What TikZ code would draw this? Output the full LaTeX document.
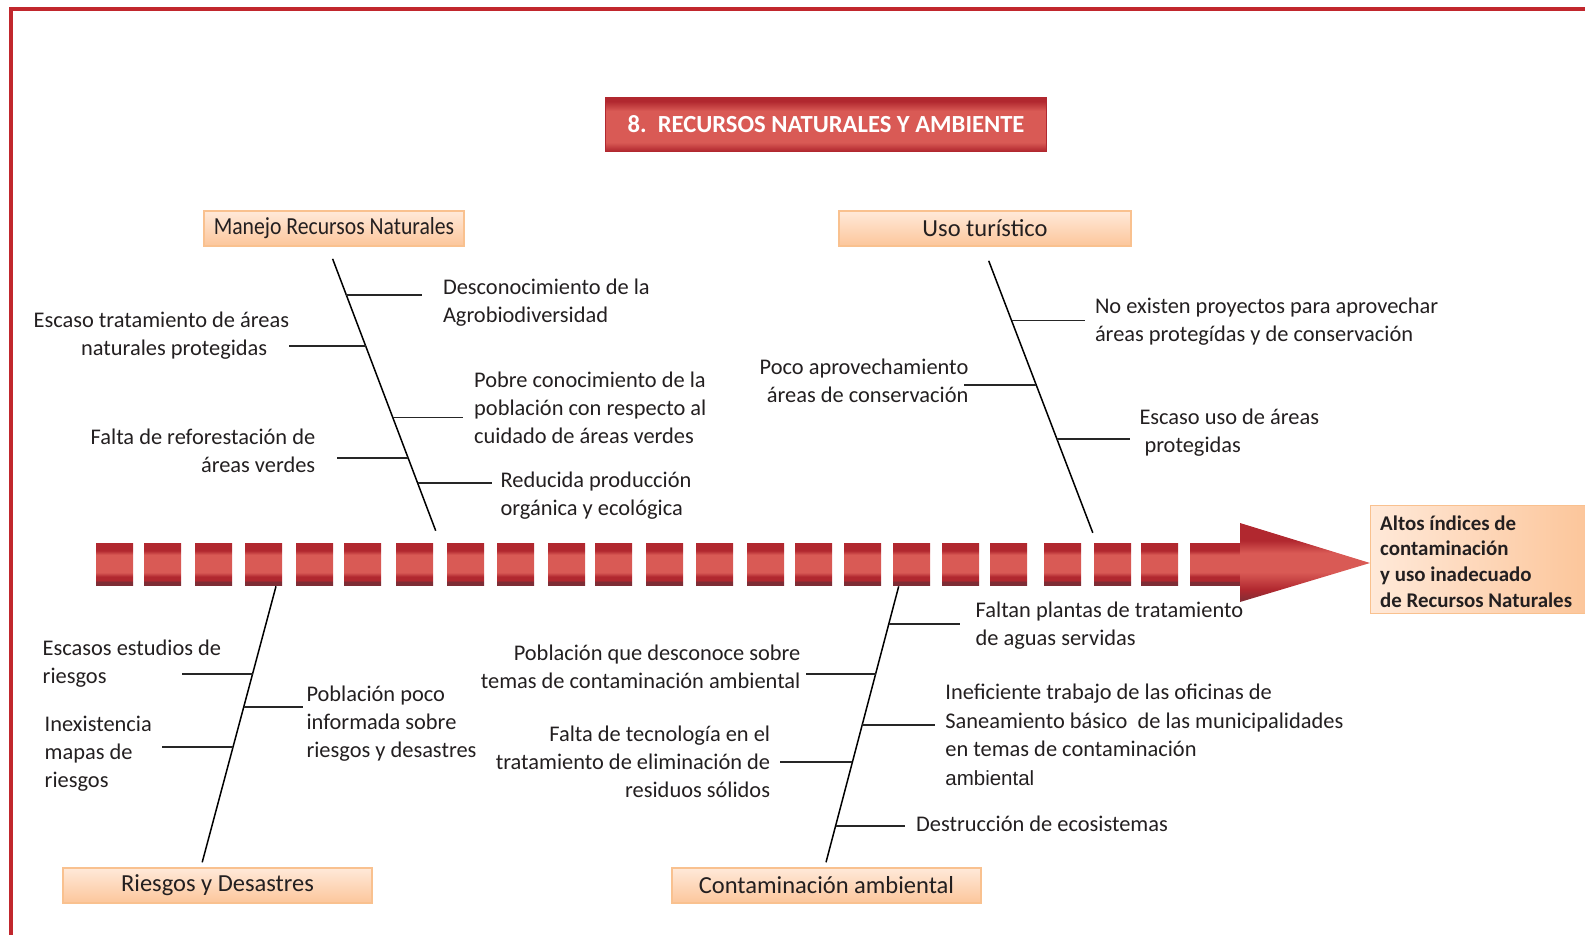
\documentclass[tikz,border=0pt]{standalone}
\usepackage{fontspec}
\setmainfont{Carlito}
\newfontfamily\libsans{Liberation Sans}
\usetikzlibrary{calc}
\definecolor{rdk}{HTML}{B1282F}
\definecolor{rlt}{HTML}{D95A55}
\definecolor{rvd}{HTML}{7E2D35}
\definecolor{frame}{HTML}{C1272D}
\definecolor{txtc}{HTML}{231F20}
\definecolor{orlt}{HTML}{FFE9D9}
\definecolor{ordk}{HTML}{FCC69B}
\definecolor{orbd}{HTML}{F9C18F}
\pgfdeclareverticalshading{redbar}{100bp}{color(0bp)=(rvd); color(25bp)=(rvd); color(29.5bp)=(rvd); color(30bp)=(rdk); color(35bp)=(rdk); color(40bp)=(rlt); color(61bp)=(rlt); color(66bp)=(rdk); color(75bp)=(rdk); color(100bp)=(rdk)}
\pgfdeclareverticalshading{titlebar}{100bp}{color(0bp)=(rdk); color(25bp)=(rdk); color(33bp)=(rlt); color(62bp)=(rlt); color(71bp)=(rdk); color(75bp)=(rdk); color(100bp)=(rdk)}
\pgfdeclareverticalshading{headshade}{100bp}{color(0bp)=(rvd); color(25bp)=(rvd); color(33bp)=(rdk); color(44bp)=(rlt); color(56bp)=(rlt); color(64bp)=(rdk); color(75bp)=(rdk); color(100bp)=(rdk)}
\begin{document}
\begin{tikzpicture}[x=1pt,y=-1pt,
  txt/.style={font=\fontsize{22.4}{28}\selectfont, inner sep=0pt, text=txtc},
  catbox/.style={draw=orbd, line width=1.5pt, top color=orlt, bottom color=ordk, minimum height=35pt, inner sep=0pt, text=txtc, font=\fontsize{24.5}{28}\selectfont},
  spine/.style={line width=1.5pt, draw=black},
  branch/.style={line width=1.8pt, draw=black!85}]
\useasboundingbox (0,0) rectangle (1585,935);
% frame
\fill[frame] (9,7) rectangle (1585,11);
\fill[frame] (9,7) rectangle (13,935);
% title
\node[shading=titlebar, draw=rdk, line width=1pt, minimum width=441pt, minimum height=54pt, inner sep=0pt, text=white, font=\fontsize{24.6}{28}\selectfont\bfseries] (title) at (826,124) {8.\ \ RECURSOS NATURALES Y AMBIENTE};
% category boxes
\node[catbox, minimum width=260pt] (cat1) at (334,228.5) {\scalebox{0.885}[1]{Manejo Recursos Naturales}};
\node[catbox, minimum width=292pt] (cat2) at (985,228.5) {Uso turístico};
\node[catbox, minimum width=309pt] (cat3) at (217.5,885.5) {Riesgos y Desastres};
\node[catbox, minimum width=309pt] (cat4) at (826.5,885.5) {Contaminación ambiental};
% spines
\coordinate (s1a) at (332.6,258.8); \coordinate (s1b) at (435.7,530.7);
\coordinate (s2a) at (988.7,260.8); \coordinate (s2b) at (1092.8,532.8);
\coordinate (s3a) at (276,586.3); \coordinate (s3b) at (202.2,862.3);
\coordinate (s4a) at (898.7,586.3); \coordinate (s4b) at (826,862.3);
\draw[spine] (s1a) -- (s1b);
\draw[spine] (s2a) -- (s2b);
\draw[spine] (s3a) -- (s3b);
\draw[spine] (s4a) -- (s4b);
% branches top-left
\coordinate (b1s) at (346.4,295.2); \coordinate (b1e) at (421.5,295.2);
\coordinate (b2s) at (365.6,345.7); \coordinate (b2e) at (289,345.7);
\coordinate (b3s) at (392.8,417.5); \coordinate (b3e) at (463,417.5);
\coordinate (b4s) at (408.1,458); \coordinate (b4e) at (336.6,458);
\coordinate (b5s) at (417.7,483.2); \coordinate (b5e) at (492.3,483.2);
% top-right
\coordinate (b6s) at (1011.5,320.5); \coordinate (b6e) at (1084.7,320.5);
\coordinate (b7s) at (1036.3,385.2); \coordinate (b7e) at (964.4,385.2);
\coordinate (b8s) at (1056.8,438.7); \coordinate (b8e) at (1130.2,438.7);
% bottom-left
\coordinate (b9s) at (252.5,674.3); \coordinate (b9e) at (182,674.3);
\coordinate (b10s) at (243.8,706.6); \coordinate (b10e) at (303.3,706.6);
\coordinate (b11s) at (233,747); \coordinate (b11e) at (161.7,747);
% bottom-right
\coordinate (b12s) at (888.9,623.7); \coordinate (b12e) at (960.4,623.7);
\coordinate (b13s) at (875.5,674.3); \coordinate (b13e) at (805.7,674.3);
\coordinate (b14s) at (862.2,724.8); \coordinate (b14e) at (935,724.8);
\coordinate (b15s) at (852.4,762.2); \coordinate (b15e) at (780.4,762.2);
\coordinate (b16s) at (835.6,826); \coordinate (b16e) at (904.8,826);
\foreach \i in {1,...,16} \draw[branch] (b\i s) -- (b\i e);
% texts top-left (anchor = baseline of last line)
\node[txt, anchor=base west, align=left] (t1) at (442.8,322.4) {Desconocimiento de la\\Agrobiodiversidad};
\node[txt, anchor=base west, align=left] (t2) at (33.4,355.8) {Escaso tratamiento de áreas\\\hspace*{47.5pt}naturales protegidas};
\node[txt, anchor=base west, align=left] (t3) at (474,443.7) {Pobre conocimiento de la\\población con respecto al\\cuidado de áreas verdes};
\node[txt, anchor=base east, align=right] (t4) at (315.4,472) {Falta de reforestación de\\áreas verdes};
\node[txt, anchor=base west, align=left] (t5) at (500.4,515.5) {Reducida producción\\orgánica y ecológica};
% texts top-right
\node[txt, anchor=base west, align=left] (t6) at (1094.8,341.6) {No existen proyectos para aprovechar\\áreas protegídas y de conservación};
\node[txt, anchor=base east, align=right] (t7) at (968.5,402.3) {Poco aprovechamiento\\áreas de conservación};
\node[txt, anchor=base west, align=left] (t8) at (1139.3,452.8) {Escaso uso de áreas\\\hspace*{5pt}protegidas};
% texts bottom-left
\node[txt, anchor=base west, align=left] (t9) at (42.5,683.3) {Escasos estudios de\\riesgos};
\node[txt, anchor=base west, align=left] (t10) at (306.3,757) {Población poco\\informada sobre\\riesgos y desastres};
\node[txt, anchor=base west, align=left] (t11) at (44.5,787.4) {Inexistencia\\mapas de\\riesgos};
% texts bottom-right
\node[txt, anchor=base west, align=left] (t12) at (975.5,645) {Faltan plantas de tratamiento\\de aguas servidas};
\node[txt, anchor=base east, align=right] (t13) at (800.6,688.4) {Población que desconoce sobre\\temas de contaminación ambiental};
\node[txt, anchor=base west, align=left, font=\fontsize{22.4}{28.6}\selectfont] (t14) at (945.2,785.4) {Ineficiente trabajo de las oficinas de\\Saneamiento básico\ \ de las municipalidades\\en temas de contaminación\\{\libsans\fontsize{20.5}{28.6}\selectfont ambiental}};
\node[txt, anchor=base east, align=right] (t15) at (770.3,797.5) {Falta de tecnología en el\\tratamiento de eliminación de\\residuos sólidos};
\node[txt, anchor=base west, align=left] (t16) at (916,831) {Destrucción de ecosistemas};
% squares
\foreach \x in {96,144,195,245,296,344,396,447,497,548,595,646,696,747,795,844,893,942,990,1044,1094,1141}
  \shade[shading=redbar] (\x,543) rectangle ++(37,42);
% arrow
\shade[shading=redbar] (1190,543) rectangle (1241,585);
\shade[shading=headshade] (1240,523) -- (1370,563) -- (1240,602) -- cycle;
% effect
\node[left color=orlt, right color=ordk, draw=orbd, line width=1pt, anchor=north west, minimum width=215pt, minimum height=108pt, inner sep=0pt] (eff) at (1370,505) {};
\node[anchor=west, inner sep=0pt, align=left, text=txtc, font=\fontsize{20.9}{25.7}\selectfont\bfseries] (efft) at ([xshift=10pt,yshift=-2pt]eff.west) {Altos índices de\\contaminación\\y uso inadecuado\\de Recursos Naturales};
\end{tikzpicture}
\end{document}
